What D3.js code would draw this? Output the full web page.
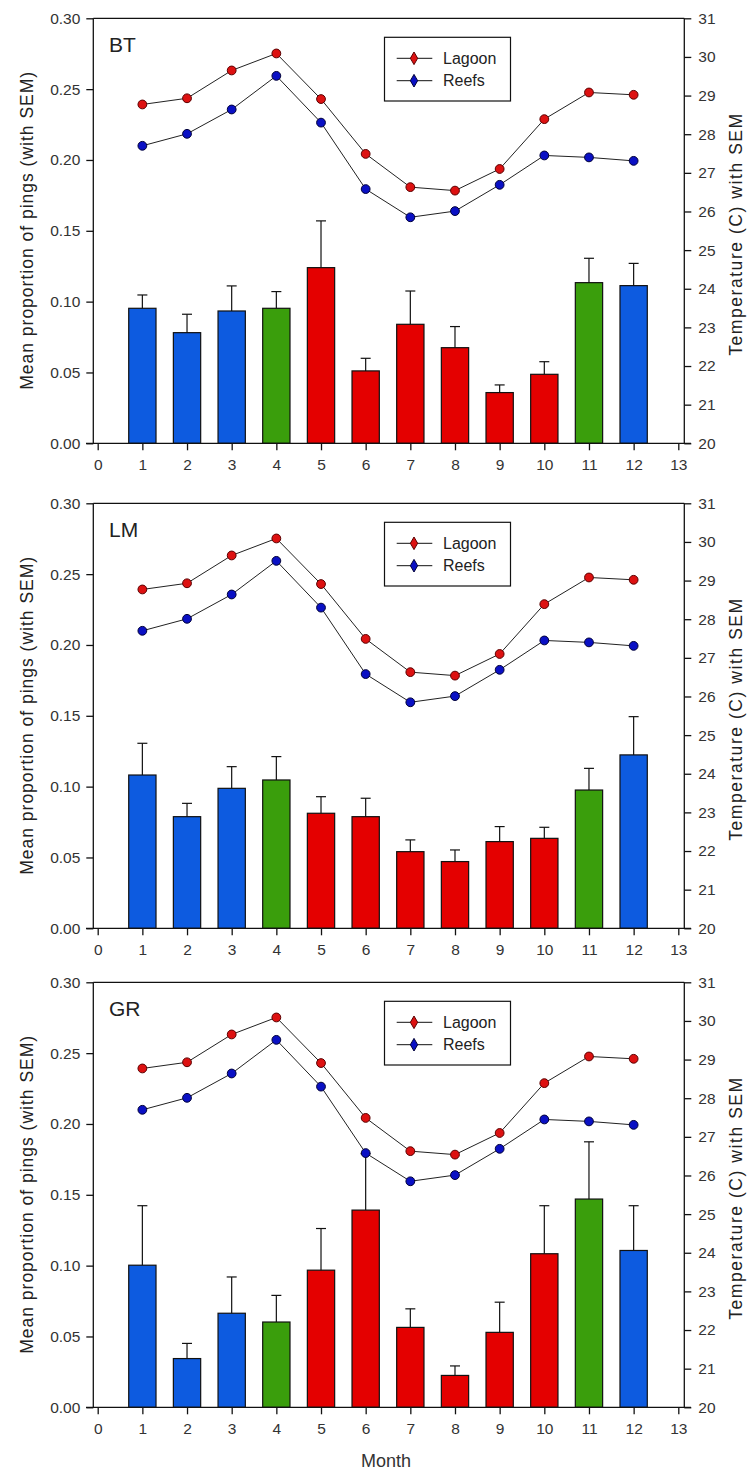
<!DOCTYPE html>
<html><head><meta charset="utf-8">
<script src="https://cdn.jsdelivr.net/npm/d3@7/dist/d3.min.js"></script>
<style>body{margin:0;background:#fff}svg{display:block}text{font-family:"Liberation Sans",Arial,sans-serif}</style>
</head><body><svg id="c" width="747" height="1477"></svg>
<script>
const months = [1,2,3,4,5,6,7,8,9,10,11,12];
const monthTicks = [0,1,2,3,4,5,6,7,8,9,10,11,12,13];
const propTicks = [0,0.05,0.10,0.15,0.20,0.25,0.30];
const tempTicks = [20,21,22,23,24,25,26,27,28,29,30,31];
const season = ["dry","dry","dry","transition","wet","wet","wet","wet","wet","wet","transition","dry"];
const lagoonTemp = [28.77,28.93,29.65,30.09,28.91,27.49,26.63,26.54,27.10,28.39,29.08,29.02];
const reefTemp = [27.70,28.01,28.64,29.51,28.30,26.58,25.85,26.01,26.69,27.45,27.40,27.31];
const btMean = [0.0953,0.0781,0.0934,0.0953,0.124,0.0511,0.084,0.0675,0.0358,0.0487,0.1134,0.1113];
const btSem  = [0.0094,0.013,0.0177,0.0118,0.033,0.0089,0.0235,0.0149,0.0054,0.0089,0.0172,0.0157];
const lmMean = [0.1082,0.0788,0.0988,0.1047,0.0812,0.0788,0.0541,0.0471,0.0612,0.0635,0.0976,0.1224];
const lmSem  = [0.0224,0.0094,0.0153,0.0165,0.0117,0.013,0.0083,0.0082,0.0106,0.0078,0.0153,0.027];
const grMean = [0.1003,0.0344,0.0664,0.0602,0.0968,0.1392,0.0564,0.0225,0.0529,0.1084,0.147,0.1107];
const grSem  = [0.042,0.0107,0.0256,0.0188,0.0294,0.0398,0.0131,0.0067,0.0213,0.0339,0.0404,0.0316];
const panels = [
  {name:"BT", mean:btMean, sem:btSem},
  {name:"LM", mean:lmMean, sem:lmSem},
  {name:"GR", mean:grMean, sem:grSem}
];
const seasonColor = {dry:"#0d5be0", transition:"#3a9e0c", wet:"#e40000"};

const svg = d3.select("#c");
const L = 93.3, R = 684.3, H = 425;
const tops = [18.3, 503.3, 982.3];
const x = d3.scaleLinear().domain([0,13]).range([97.7,678.3]);
const bw = 27.3;

panels.forEach((p,pi)=>{
  const top = tops[pi], bot = top + H;
  const y = d3.scaleLinear().domain([0,0.30]).range([bot, top]);
  const yt = d3.scaleLinear().domain([20,31]).range([bot, top]);
  const g = svg.append("g");

  g.selectAll("rect.bar").data(months).enter().append("rect")
    .attr("x", d=>x(d)-bw/2).attr("width", bw)
    .attr("y", (d,i)=>y(p.mean[i])).attr("height",(d,i)=>bot - y(p.mean[i]))
    .attr("fill",(d,i)=>seasonColor[season[i]]).attr("stroke","#111").attr("stroke-width",1.2);
  months.forEach((m,i)=>{
    const yt0 = y(p.mean[i]), yt1 = y(p.mean[i]+p.sem[i]);
    g.append("line").attr("x1",x(m)).attr("x2",x(m)).attr("y1",yt0).attr("y2",yt1).attr("stroke","#111").attr("stroke-width",1.2);
    g.append("line").attr("x1",x(m)-5).attr("x2",x(m)+5).attr("y1",yt1).attr("y2",yt1).attr("stroke","#111").attr("stroke-width",1.2);
  });

  g.append("line").attr("x1",L).attr("x2",R).attr("y1",top).attr("y2",top).attr("stroke","#111").attr("stroke-width",1.3);

  const ya = d3.axisLeft(y).tickValues(propTicks).tickFormat(d3.format(".2f")).tickSize(7).tickPadding(6);
  const yag = g.append("g").attr("transform",`translate(${L},0)`).call(ya);
  const ra = d3.axisRight(yt).tickValues(tempTicks).tickFormat(d3.format("d")).tickSize(7).tickPadding(7);
  const rag = g.append("g").attr("transform",`translate(${R},0)`).call(ra);
  const xa = d3.axisBottom(x).tickValues(monthTicks).tickFormat(d3.format("d")).tickSize(7).tickPadding(9);
  const xag = g.append("g").attr("transform",`translate(0,${bot})`).call(xa);
  [yag,rag,xag].forEach(a=>{
    a.select(".domain").remove();
    a.selectAll(".tick line").attr("stroke","#111").attr("stroke-width",1.3);
    a.selectAll("text").attr("font-size",15.5).attr("fill","#333").attr("font-family","'Liberation Sans',Arial,sans-serif");
  });
  g.append("line").attr("x1",L).attr("x2",L).attr("y1",top).attr("y2",bot).attr("stroke","#111").attr("stroke-width",1.3);
  g.append("line").attr("x1",R).attr("x2",R).attr("y1",top).attr("y2",bot).attr("stroke","#111").attr("stroke-width",1.3);
  g.append("line").attr("x1",86).attr("x2",691).attr("y1",bot).attr("y2",bot).attr("stroke","#111").attr("stroke-width",1.3);

  const line = d3.line().x((d,i)=>x(months[i])).y(d=>yt(d));
  [[lagoonTemp,"#dd1111","#5a0000"],[reefTemp,"#0a10c4","#000038"]].forEach(([arr,fill,stroke])=>{
    g.append("path").attr("d",line(arr)).attr("fill","none").attr("stroke","#222").attr("stroke-width",1);
    g.selectAll(null).data(arr).enter().append("circle")
      .attr("cx",(d,i)=>x(months[i])).attr("cy",d=>yt(d)).attr("r",4.4)
      .attr("fill",fill).attr("stroke",stroke).attr("stroke-width",1);
  });

  g.append("text").attr("x",109).attr("y",top+34).attr("font-size",21).attr("fill","#222")
    .attr("font-family","'Open Sans','Liberation Sans',sans-serif").text(p.name);

  const lg = g.append("g");
  lg.append("rect").attr("x",384.5).attr("y",top+19).attr("width",126).attr("height",63.7).attr("fill","#fff").attr("stroke","#111").attr("stroke-width",1.2);
  [["Lagoon","#dd1111","#5a0000",40],["Reefs","#0a10c4","#000038",62.4]].forEach(([lab,fill,stroke,dy])=>{
    lg.append("line").attr("x1",396.7).attr("x2",432.3).attr("y1",top+dy).attr("y2",top+dy).attr("stroke","#111").attr("stroke-width",1);
    lg.append("path").attr("d",d3.symbol(d3.symbolDiamond,46)()).attr("transform",`translate(414,${top+dy})`)
      .attr("fill",fill).attr("stroke",stroke).attr("stroke-width",1);
    lg.append("text").attr("x",443).attr("y",top+dy+5.5).attr("font-size",16).attr("fill","#222").text(lab);
  });

  g.append("text").attr("transform",`translate(27,${top+H/2}) rotate(-90)`).attr("text-anchor","middle")
    .attr("dy","0.35em").attr("font-size",17.5).attr("fill","#222")
    .attr("textLength",318).attr("lengthAdjust","spacing").text("Mean proportion of pings (with SEM)");
  g.append("text").attr("transform",`translate(736,${top+H/2+4}) rotate(-90)`).attr("text-anchor","middle")
    .attr("dy","0.35em").attr("font-size",17.5).attr("fill","#222")
    .attr("textLength",242).attr("lengthAdjust","spacing").text("Temperature (C) with SEM");
});

svg.append("text").attr("x",386).attr("y",1467).attr("text-anchor","middle").attr("font-size",18).attr("fill","#333").text("Month");
</script></body></html>
